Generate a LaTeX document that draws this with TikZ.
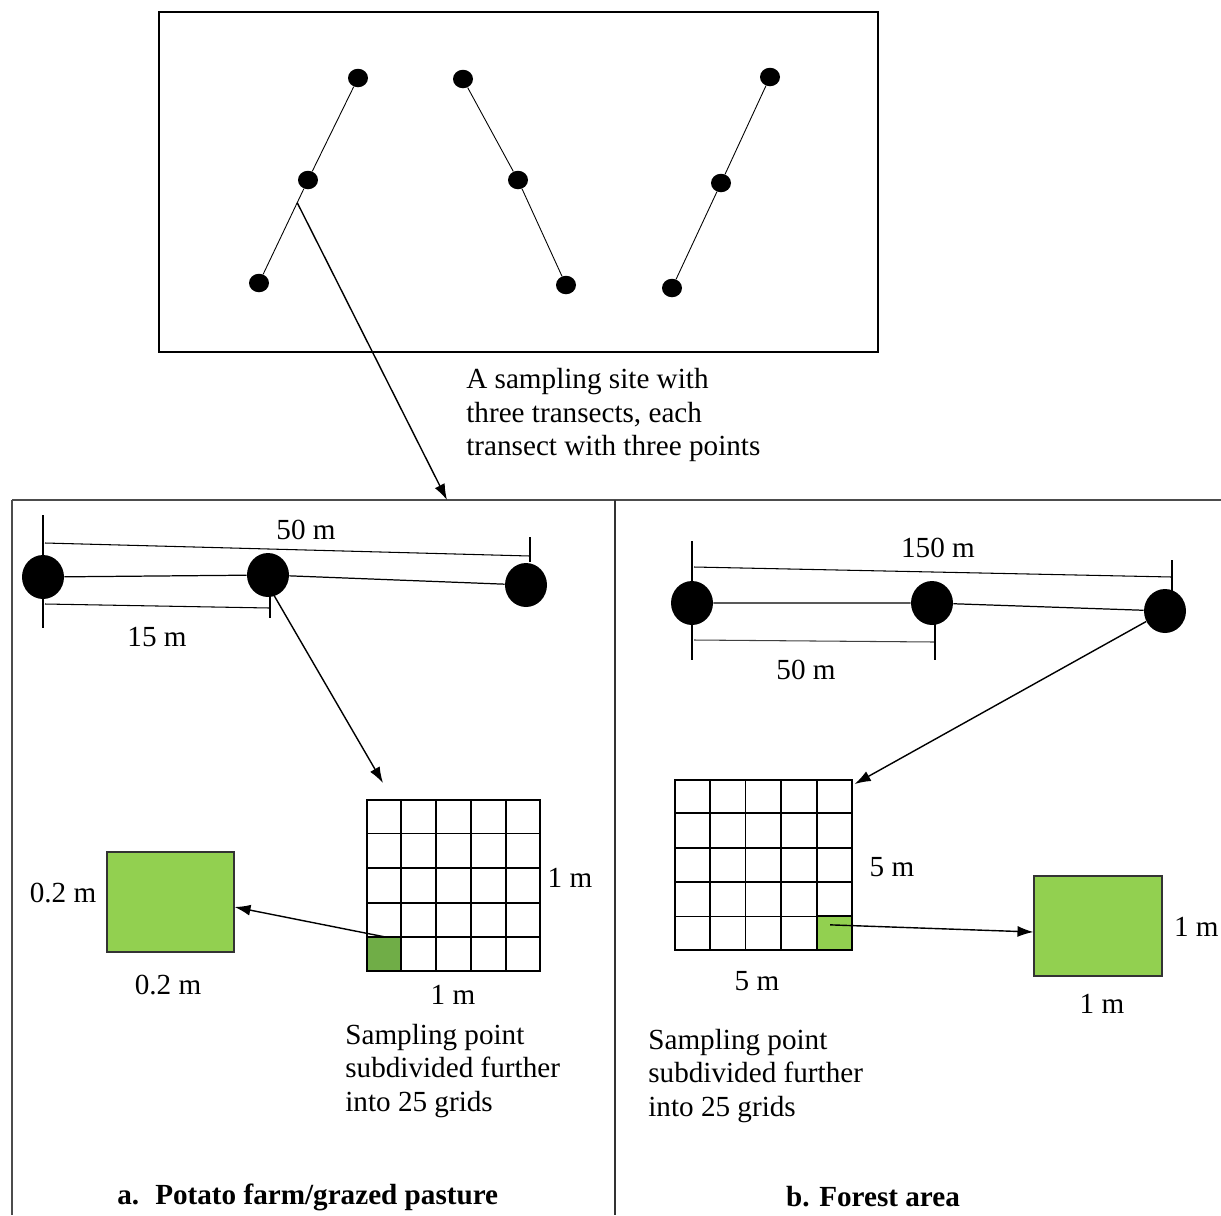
\documentclass[tikz,border=0pt]{standalone}
\usepackage{fontspec}
\setmainfont{Liberation Serif}
\usetikzlibrary{shapes.geometric,arrows.meta,calc}

\definecolor{leafgreen}{HTML}{92D050}
\definecolor{darkleaf}{HTML}{70AD47}

\begin{document}
\begin{tikzpicture}[x=0.02cm,y=-0.02cm,
  font=\fontsize{16.6}{18.8}\selectfont,
  sitedot/.style={ellipse,fill=black,inner sep=0,minimum width=0.4cm,minimum height=0.37cm},
  bigdot/.style={ellipse,fill=black,inner sep=0,minimum width=0.84cm,minimum height=0.88cm},
  link/.style={line width=0.5pt},
  arr/.style={line width=0.8pt,-{Latex[length=0.32cm,width=0.22cm]}},
  panel/.style={draw=gray!60!black,line width=0.8pt},
  dimline/.style={line width=0.6pt},
  lbl/.style={inner sep=0},
  gridbox/.style={draw,line width=1pt,fill=white,inner sep=0,anchor=north west},
  plot/.style={draw=black!80,line width=0.6pt,fill=leafgreen,inner sep=0},
  captiontext/.style={inner sep=0,font=\fontsize{16.6}{18.8}\selectfont\bfseries}
]
\useasboundingbox (0,0) rectangle (1221,1215);

% ---------- sampling site with three transects ----------
\draw[line width=0.85pt] (159,12) rectangle (878,352);
\node[sitedot] (s1a) at (358,78) {};
\node[sitedot] (s1b) at (308,180) {};
\node[sitedot] (s1c) at (259,283) {};
\node[sitedot] (s2a) at (463,79) {};
\node[sitedot] (s2b) at (518,180) {};
\node[sitedot] (s2c) at (566,285) {};
\node[sitedot] (s3a) at (770,77) {};
\node[sitedot] (s3b) at (721,183) {};
\node[sitedot] (s3c) at (672,288) {};
\draw[link] (s1a) -- (s1b) -- (s1c);
\draw[link] (s2a) -- (s2b) -- (s2c);
\draw[link] (s3a) -- (s3b) -- (s3c);

\node[lbl,anchor=west,align=left] (sitetext) at (466,415)
  {A sampling site with\\three transects, each\\transect with three points};

% ---------- panel frames ----------
\draw[panel] (12,500) -- (1221,500);
\draw[panel] (12,500) -- (12,1215);
\draw[panel,draw=black!80] (615,500) -- (615,1215);
\coordinate (entry) at (447,500);
\draw[arr] ($(s1b)!0.22!(s1c)$) -- (entry);

% ---------- panel a: potato farm / grazed pasture ----------
\node[bigdot] (a1) at (43,577) {};
\node[bigdot] (a2) at (268,575) {};
\node[bigdot] (a3) at (526,585) {};
\draw[link,line width=0.7pt] (a1) -- (a2) -- (a3);

\draw[dimline] (43,515) -- (43,628);
\draw[dimline] (45,543) -- (530,556);
\draw[dimline] (530,537) -- (530,562);
\draw[dimline] (45,604) -- (270,608);
\draw[dimline] (270,590) -- (270,618);
\node[lbl] (a50) at (306,530) {50 m};
\node[lbl] (a15) at (157,637) {15 m};

\node[gridbox,minimum width=3.46cm,minimum height=3.42cm] (gridA) at (366,799) {};
\node[draw,line width=1pt,fill=darkleaf,inner sep=0,anchor=south west,
      minimum width=0.692cm,minimum height=0.684cm] (cellA) at (gridA.south west) {};
\foreach \i in {1,...,4}{
  \draw[line width=1pt] ($(gridA.north west)!\i/5!(gridA.north east)$) -- ($(gridA.south west)!\i/5!(gridA.south east)$);
  \draw[line width=1pt] ($(gridA.north west)!\i/5!(gridA.south west)$) -- ($(gridA.north east)!\i/5!(gridA.south east)$);
}
\node[lbl] (gA1) at (570,878) {1 m};
\node[lbl] (gA2) at (453,995) {1 m};
\draw[arr] ($(a2.south)+(6,-2)$) -- ($(gridA.north west)+(17,-16)$);

\node[plot,minimum width=2.54cm,minimum height=2.0cm] (boxA) at (170.5,902) {};
\node[lbl] (bA1) at (63,893) {0.2 m};
\node[lbl] (bA2) at (168,985) {0.2 m};
\draw[arr] ($(cellA.north)+(0,1)$) -- ([yshift=-0.1cm]boxA.east);

\node[lbl,anchor=west,align=left] (textA) at (345,1071)
  {Sampling point\\subdivided further\\into 25 grids};
\node[captiontext,anchor=west] (capA) at (117,1197) {a.\hspace{0.55em}Potato farm/grazed pasture};

% ---------- panel b: forest area ----------
\node[bigdot] (b1) at (692,603) {};
\node[bigdot] (b2) at (932,603) {};
\node[bigdot] (b3) at (1165,611) {};
\draw[link,line width=0.7pt] (b1) -- (b2) -- (b3);

\draw[dimline] (692,541) -- (692,660);
\draw[dimline] (694,567) -- (1172,577);
\draw[dimline] (1172,560) -- (1172,600);
\draw[dimline,draw=black!75] (694,640) -- (935,642);
\draw[dimline] (935,622) -- (935,660);
\node[lbl] (b150) at (938,548) {150 m};
\node[lbl] (b50) at (806,670) {50 m};

\node[gridbox,minimum width=3.54cm,minimum height=3.40cm] (gridB) at (674,779) {};
\node[draw,line width=1pt,fill=leafgreen,inner sep=0,anchor=south east,
      minimum width=0.708cm,minimum height=0.68cm] (cellB) at (gridB.south east) {};
\foreach \i in {1,...,4}{
  \draw[line width=1pt] ($(gridB.north west)!\i/5!(gridB.north east)$) -- ($(gridB.south west)!\i/5!(gridB.south east)$);
  \draw[line width=1pt] ($(gridB.north west)!\i/5!(gridB.south west)$) -- ($(gridB.north east)!\i/5!(gridB.south east)$);
}
\node[lbl] (gB1) at (892,867) {5 m};
\node[lbl] (gB2) at (757,981) {5 m};
\draw[arr] (b3) -- ($(gridB.north east)+(2,5)$);

\node[plot,minimum width=2.56cm,minimum height=2.0cm] (boxB) at (1098,926) {};
\node[lbl,anchor=east] (bB1) at (1219,927) {1 m};
\node[lbl] (bB2) at (1102,1004) {1 m};
\draw[arr] ($(cellB.center)+(-4,-8)$) -- ([yshift=-0.12cm]boxB.west);

\node[lbl,anchor=west,align=left] (textB) at (648,1076)
  {Sampling point\\subdivided further\\into 25 grids};
\node[captiontext] (capB) at (873,1197) {b. Forest area};
\end{tikzpicture}
\end{document}
